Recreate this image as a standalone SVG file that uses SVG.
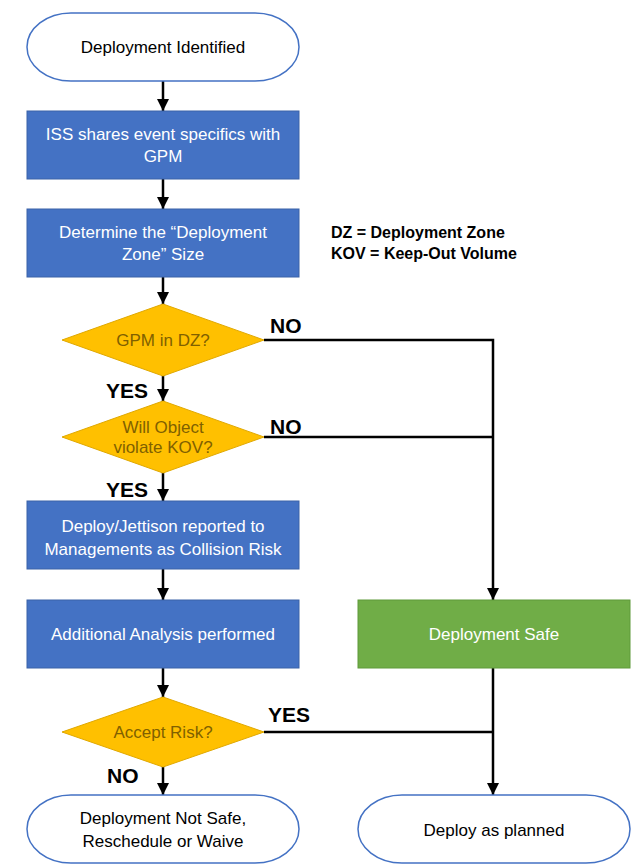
<svg xmlns="http://www.w3.org/2000/svg" width="644" height="868" viewBox="0 0 644 868">
<defs>
<marker id="arr" viewBox="0 0 10 10" refX="10" refY="5" markerWidth="5" markerHeight="5" markerUnits="strokeWidth" orient="auto">
<path d="M0,0 L10,5 L0,10 Z" fill="#000"/>
</marker>
</defs>
<style>
.term{fill:#fff;stroke:#4472C4;stroke-width:1.5}
.blue{fill:#4472C4;stroke:#3a62a8;stroke-width:1}
.green{fill:#70AD47;stroke:#5f9a3a;stroke-width:1}
.dia{fill:#FFC000;stroke:#e0a800;stroke-width:1}
.t{font-family:"Liberation Sans",Arial,sans-serif;font-size:17px;text-anchor:middle}
.tk{fill:#000}
.tw{fill:#fff}
.td{fill:#806000}
.lbl{font-family:"Liberation Sans",Arial,sans-serif;font-size:21px;font-weight:bold;fill:#000}
.leg{font-family:"Liberation Sans",Arial,sans-serif;font-size:16px;font-weight:bold;fill:#000}
.c{fill:none;stroke:#000;stroke-width:2.5}
</style>
<rect width="644" height="868" fill="#fff"/>
<g id="connectors">
<line class="c" x1="163" y1="81" x2="163" y2="111" marker-end="url(#arr)"/>
<line class="c" x1="163" y1="179" x2="163" y2="209" marker-end="url(#arr)"/>
<line class="c" x1="163" y1="277" x2="163" y2="304" marker-end="url(#arr)"/>
<line class="c" x1="163" y1="376" x2="163" y2="401" marker-end="url(#arr)"/>
<line class="c" x1="163" y1="473" x2="163" y2="501" marker-end="url(#arr)"/>
<line class="c" x1="163" y1="569" x2="163" y2="600" marker-end="url(#arr)"/>
<line class="c" x1="163" y1="668" x2="163" y2="697" marker-end="url(#arr)"/>
<line class="c" x1="163" y1="767" x2="163" y2="795" marker-end="url(#arr)"/>
<polyline class="c" points="264,340 493,340 493,600" marker-end="url(#arr)"/>
<line class="c" x1="264" y1="437" x2="493" y2="437"/>
<line class="c" x1="493" y1="668" x2="493" y2="795" marker-end="url(#arr)"/>
<line class="c" x1="264" y1="732" x2="493" y2="732"/>
<text class="lbl" x="270" y="333">NO</text>
<text class="lbl" x="270" y="434">NO</text>
<text class="lbl" x="106" y="398">YES</text>
<text class="lbl" x="106" y="497">YES</text>
<text class="lbl" x="268" y="722">YES</text>
<text class="lbl" x="107" y="783">NO</text>
</g>
<g id="start">
<rect class="term" x="27" y="13" width="272" height="68" rx="44" ry="34"/>
<text class="t tk" x="163" y="53">Deployment Identified</text>
</g>
<g id="iss">
<rect class="blue" x="27" y="111" width="272" height="68"/>
<text class="t tw" x="163" y="140">ISS shares event specifics with</text>
<text class="t tw" x="163" y="162">GPM</text>
</g>
<g id="determine">
<rect class="blue" x="27" y="209" width="272" height="68"/>
<text class="t tw" x="163" y="238">Determine the “Deployment</text>
<text class="t tw" x="163" y="260">Zone” Size</text>
</g>
<g id="legend">
<text class="leg" x="331" y="238">DZ = Deployment Zone</text>
<text class="leg" x="331" y="259">KOV = Keep-Out Volume</text>
</g>
<g id="gpm">
<polygon class="dia" points="163,304 264,340 163,376 62,340"/>
<text class="t td" x="163" y="346">GPM in DZ?</text>
</g>
<g id="violate">
<polygon class="dia" points="163,401 264,437 163,473 62,437"/>
<text class="t td" x="163" y="433">Will Object</text>
<text class="t td" x="163" y="453">violate KOV?</text>
</g>
<g id="report">
<rect class="blue" x="27" y="501" width="272" height="68"/>
<text class="t tw" x="163" y="532">Deploy/Jettison reported to</text>
<text class="t tw" x="163" y="555">Managements as Collision Risk</text>
</g>
<g id="analysis">
<rect class="blue" x="27" y="600" width="272" height="68"/>
<text class="t tw" x="163" y="640">Additional Analysis performed</text>
</g>
<g id="safe">
<rect class="green" x="358" y="600" width="272" height="68"/>
<text class="t tw" x="494" y="640">Deployment Safe</text>
</g>
<g id="accept">
<polygon class="dia" points="163,697 264,732 163,767 62,732"/>
<text class="t td" x="163" y="738">Accept Risk?</text>
</g>
<g id="notsafe">
<rect class="term" x="27" y="795" width="272" height="68" rx="44" ry="34"/>
<text class="t tk" x="163" y="824">Deployment Not Safe,</text>
<text class="t tk" x="163" y="847">Reschedule or Waive</text>
</g>
<g id="planned">
<rect class="term" x="358" y="795" width="272" height="68" rx="44" ry="34"/>
<text class="t tk" x="494" y="836">Deploy as planned</text>
</g>
</svg>
